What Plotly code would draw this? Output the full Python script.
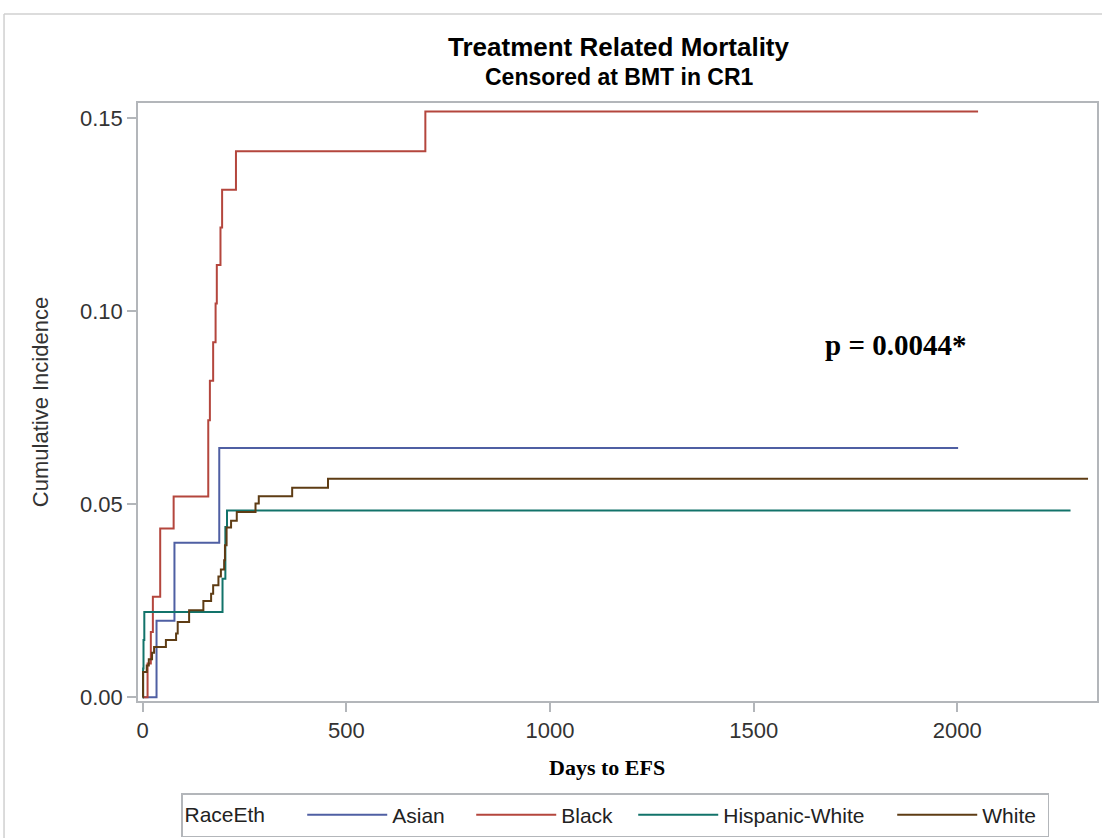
import plotly.graph_objects as go

# ---- data ----
asian_days = [0, 34, 78, 188, 2002]
asian_ci = [0.0, 0.0198, 0.0400, 0.0646, 0.0646]

black_days = [0, 12, 20, 25, 43, 76, 161, 165, 173, 179, 182, 191, 195, 229, 694, 2051]
black_ci = [0.0, 0.0087, 0.0169, 0.0260, 0.0437, 0.0520, 0.0718, 0.0820, 0.0920,
            0.1020, 0.1120, 0.1217, 0.1315, 0.1415, 0.1518, 0.1518]

hisp_days = [0, 1, 2, 4, 196, 203, 207, 2278]
hisp_ci = [0.0, 0.0074, 0.0148, 0.0221, 0.0307, 0.0441, 0.0484, 0.0484]

white_days = [0, 1, 10, 15, 23, 28, 57, 82, 86, 114, 149, 168, 173, 186, 192, 200,
              202, 206, 217, 231, 277, 285, 367, 455, 2321]
white_ci = [0.0, 0.0065, 0.0082, 0.0098, 0.0115, 0.0130, 0.0148, 0.0165, 0.0195,
            0.0225, 0.0249, 0.0268, 0.0290, 0.0313, 0.0331, 0.0355, 0.0394, 0.0440,
            0.0457, 0.0480, 0.0502, 0.0521, 0.0543, 0.0566, 0.0566]

series_names = ["Asian", "Black", "Hispanic-White", "White"]
series_colors = ["#4f5fa3", "#b4463d", "#12736a", "#5e3c14"]
legend_widths = [74, 67, 164, 60]

x_ticks = [0, 500, 1000, 1500, 2000]
y_ticks = [0.0, 0.05, 0.10, 0.15]

title_text = "Treatment Related Mortality"
subtitle_text = "Censored at BMT in CR1"
x_label = "Days to EFS"
y_label = "Cumulative Incidence"
p_text = "p = 0.0044*"
legend_title = "RaceEth"

AX = "#b3b6ba"
TXT = "#333333"
SANS = "Liberation Sans, Arial, sans-serif"
SERIF = "Liberation Serif, Times New Roman, serif"

fig = go.Figure()
all_data = [(asian_days, asian_ci), (black_days, black_ci), (hisp_days, hisp_ci), (white_days, white_ci)]
for (d, v), name, col, lw in zip(all_data, series_names, series_colors, legend_widths):
    fig.add_trace(go.Scatter(x=d, y=v, mode="lines", name=name, legendwidth=lw,
                             line=dict(color=col, width=2, shape="hv")))

fig.update_layout(
    width=1102, height=838,
    margin=dict(l=138, r=5, t=103, b=137, autoexpand=False),
    paper_bgcolor="white", plot_bgcolor="white",
    showlegend=True,
    legend=dict(orientation="h", x=0.4974, xanchor="center", y=-0.154, yanchor="top",
                bordercolor=AX, borderwidth=1.5, bgcolor="white",
                font=dict(family=SANS, size=21, color="#222222"),
                title=dict(text=legend_title + "     ", side="left",
                           font=dict(family=SANS, size=21, color="#222222")),
                itemwidth=80, tracegroupgap=0),
    font=dict(family=SANS, color=TXT),
)

fig.update_xaxes(range=[-11.5, 2343], tickvals=x_ticks, ticktext=[str(t) for t in x_ticks],
                 ticks="outside", ticklen=9, tickcolor=AX, tickwidth=1.5,
                 showline=True, linecolor=AX, linewidth=1.5, mirror=True,
                 showgrid=False, zeroline=False,
                 tickfont=dict(family=SANS, size=22, color=TXT))
fig.update_yaxes(range=[-0.001, 0.154], tickvals=y_ticks, tickformat=".2f",
                 ticks="outside", ticklen=9, tickcolor=AX, tickwidth=1.5,
                 showline=True, linecolor=AX, linewidth=1.5, mirror=True,
                 showgrid=False, zeroline=False,
                 tickfont=dict(family=SANS, size=22, color=TXT))

annots = [
    dict(text="<b>" + title_text + "</b>", xref="paper", yref="paper", x=0.5016, y=1.0936,
         xanchor="center", yanchor="middle", showarrow=False,
         font=dict(family=SANS, size=26, color="black")),
    dict(text="<b>" + subtitle_text + "</b>", xref="paper", yref="paper", x=0.5016, y=1.0435,
         xanchor="center", yanchor="middle", showarrow=False,
         font=dict(family=SANS, size=23, color="black")),
    dict(text="<b>" + x_label + "</b>", xref="paper", yref="paper", x=0.489, y=-0.112,
         xanchor="center", yanchor="middle", showarrow=False,
         font=dict(family=SERIF, size=22, color="black")),
    dict(text=y_label, xref="paper", yref="paper", x=-0.102, y=0.5, textangle=-90,
         xanchor="center", yanchor="middle", showarrow=False,
         font=dict(family=SANS, size=22, color=TXT)),
    dict(text="<b>" + p_text + "</b>", xref="x", yref="y", x=1849, y=0.0912,
         xanchor="center", yanchor="middle", showarrow=False,
         font=dict(family=SERIF, size=29, color="black")),
]
fig.update_layout(annotations=annots)

# outer image frame (top and left edges only are visible in the reference)
fig.add_shape(type="line", xref="paper", yref="paper", x0=-0.1397, x1=1.02, y0=1.1488, y1=1.1488,
              line=dict(color="#d0d0d0", width=1.5), layer="below")
fig.add_shape(type="line", xref="paper", yref="paper", x0=-0.1397, x1=-0.1397, y0=-0.35, y1=1.1488,
              line=dict(color="#d0d0d0", width=1.5), layer="below")

fig.write_html("out.html")
